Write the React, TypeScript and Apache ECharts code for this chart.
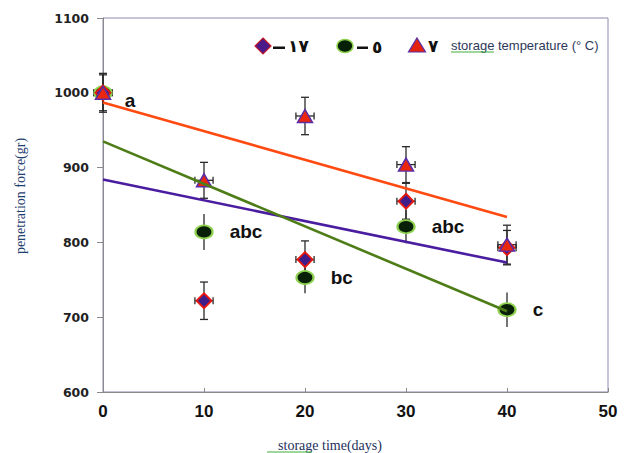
import React, { useEffect, useRef } from 'react';
import * as echarts from 'echarts';

// storage time (days)
const days = [0, 10, 20, 30, 40];
// penetration force (gr) by storage temperature
const temp17 = [1000, 722, 777, 855, 793];
const temp5 = [1000, 814, 753, 821, 710];
const temp7 = [1000, 883, 969, 904, 797];
// error bars
const err17 = [24, 25, 25, 24, 23];
const err5 = [24, 24, 21, 22, 23];
const err7 = [26, 24, 25, 24, 26];
const errDays = [0.9, 0.9, 0.9, 0.9, 0.9];
// significance letters (on the -5 series)
const letters5 = ['a', 'abc', 'bc', 'abc', 'c'];
// linear trend lines (end points)
const trendDays = [0, 40];
const trend17 = [884, 773];
const trend5 = [935, 708];
const trend7 = [987, 834];
// legend labels
const legendNames = ['١٧', '٥', '٧'];
const legendSuffix = 'storage temperature (° C)';
const xTitle = 'storage time(days)';
const yTitle = 'penetration force(gr)';

const C_ORANGE = '#ff4a12';
const C_GREEN = '#4e7d17';
const C_PURPLE = '#4a1ca0';

function makeErr(ys: number[], errs: number[], caps: boolean, z: number) {
  return {
    type: 'custom',
    z,
    silent: true,
    encode: { x: 0, y: 1 },
    data: days.map((d, i) => [d, ys[i], errs[i], errDays[i]]),
    renderItem: (params: any, api: any) => {
      const x = api.value(0);
      const y = api.value(1);
      const e = api.value(2);
      const ex = api.value(3);
      const top = api.coord([x, y + e]);
      const bot = api.coord([x, y - e]);
      const left = api.coord([x - ex, y]);
      const right = api.coord([x + ex, y]);
      const style = { stroke: '#2a2a2a', lineWidth: 1.3 };
      const children: any[] = [
        { type: 'line', shape: { x1: top[0], y1: top[1], x2: bot[0], y2: bot[1] }, style },
        { type: 'line', shape: { x1: left[0], y1: left[1], x2: right[0], y2: right[1] }, style },
      ];
      if (caps) {
        const cw = 4;
        const ch = 3.5;
        children.push(
          { type: 'line', shape: { x1: top[0] - cw, y1: top[1], x2: top[0] + cw, y2: top[1] }, style },
          { type: 'line', shape: { x1: bot[0] - cw, y1: bot[1], x2: bot[0] + cw, y2: bot[1] }, style },
          { type: 'line', shape: { x1: left[0], y1: left[1] - ch, x2: left[0], y2: left[1] + ch }, style },
          { type: 'line', shape: { x1: right[0], y1: right[1] - ch, x2: right[0], y2: right[1] + ch }, style }
        );
      }
      return { type: 'group', children };
    },
  };
}

function trend(ys: number[], color: string) {
  return {
    type: 'line',
    z: 10,
    silent: true,
    symbol: 'none',
    data: trendDays.map((d, i) => [d, ys[i]]),
    lineStyle: { color, width: 2.6 },
  };
}

export default function App() {
  const ref = useRef<HTMLDivElement>(null);
  useEffect(() => {
    if (!ref.current) return;
    const chart = echarts.init(ref.current, undefined, { renderer: 'svg' });
    const legendTextStyle = {
      fontFamily: 'DejaVu Sans',
      fontWeight: 'bold',
      fontSize: 17,
      fill: '#111',
      textVerticalAlign: 'middle',
    };
    chart.setOption({
      animation: false,
      backgroundColor: '#ffffff',
      grid: {
        left: 103,
        right: 17,
        top: 18,
        bottom: 61,
        show: true,
        borderColor: '#9188b0',
        borderWidth: 1,
      },
      xAxis: {
        type: 'value',
        min: 0,
        max: 50,
        interval: 10,
        axisLine: { show: true, lineStyle: { color: '#8a8a8a', width: 1 } },
        axisTick: { show: true, inside: true, length: 4, lineStyle: { color: '#8a8a8a' } },
        axisLabel: {
          fontFamily: 'Liberation Sans',
          fontWeight: 'bold',
          fontSize: 17,
          color: '#111',
          margin: 11,
          formatter: (v: number) => String(v),
        },
        splitLine: { show: false },
      },
      yAxis: {
        type: 'value',
        min: 600,
        max: 1100,
        interval: 100,
        axisLine: { show: true, lineStyle: { color: '#8a8a8a', width: 1 } },
        axisTick: { show: true, inside: false, length: 6, lineStyle: { color: '#8a8a8a' } },
        axisLabel: {
          fontFamily: 'DejaVu Sans',
          fontWeight: 'bold',
          fontSize: 12.5,
          color: '#222',
          margin: 14,
          formatter: (v: number) => String(v),
        },
        splitLine: { show: false },
      },
      series: [
        makeErr(temp5, err5, false, 2),
        makeErr(temp17, err17, true, 2),
        makeErr(temp7, err7, true, 2),
        {
          type: 'scatter',
          name: legendNames[1],
          z: 3,
          symbol: 'circle',
          symbolSize: [17, 13],
          itemStyle: { color: '#082008', borderColor: '#8ed14e', borderWidth: 2, opacity: 1 },
          data: days.map((d, i) => ({
            value: [d, temp5[i]],
            label: {
              show: true,
              formatter: letters5[i],
              position: 'right',
              distance: i === 0 ? 12 : 16,
              offset: i === 0 ? [0, 8] : [0, 0],
              fontFamily: 'Liberation Sans',
              fontWeight: 'bold',
              fontSize: 19,
              color: '#111',
            },
          })),
        },
        {
          type: 'scatter',
          name: legendNames[0],
          z: 4,
          symbol: 'diamond',
          symbolSize: [15, 15],
          itemStyle: { color: '#3f1e8c', borderColor: '#e8170e', borderWidth: 1.8, opacity: 1 },
          data: days.map((d, i) => [d, temp17[i]]),
        },
        {
          type: 'scatter',
          name: legendNames[2],
          z: 5,
          symbol: 'triangle',
          symbolSize: [15, 13],
          itemStyle: { color: '#ea260c', borderColor: '#5a2ca6', borderWidth: 1.5, opacity: 1 },
          data: days.map((d, i) => [d, temp7[i]]),
        },
        trend(trend17, C_PURPLE),
        trend(trend5, C_GREEN),
        trend(trend7, C_ORANGE),
      ],
      graphic: [
        // legend
        {
          type: 'polygon',
          shape: { points: [[263, 38], [271, 46], [263, 54], [255, 46]] },
          style: { fill: '#4a1a8a', stroke: '#c0182a', lineWidth: 1.2 },
        },
        { type: 'rect', shape: { x: 273, y: 46.5, width: 12, height: 2.5 }, style: { fill: '#111' } },
        { type: 'text', x: 288, y: 46, style: { ...legendTextStyle, text: legendNames[0] } },
        {
          type: 'ellipse',
          shape: { cx: 345, cy: 46, rx: 8, ry: 6.5 },
          style: { fill: '#062006', stroke: '#8ed14e', lineWidth: 1.6 },
        },
        { type: 'rect', shape: { x: 357, y: 46.5, width: 11, height: 2.5 }, style: { fill: '#111' } },
        { type: 'text', x: 372, y: 47, style: { ...legendTextStyle, text: legendNames[1] } },
        {
          type: 'polygon',
          shape: { points: [[417, 38], [425.5, 52], [408.5, 52]] },
          style: { fill: '#e4230c', stroke: '#5a2ca6', lineWidth: 1.2 },
        },
        { type: 'text', x: 428, y: 46, style: { ...legendTextStyle, text: legendNames[2] } },
        {
          type: 'text',
          x: 451,
          y: 45,
          style: {
            text: legendSuffix,
            fontFamily: 'Liberation Sans',
            fontSize: 13,
            fill: '#2d3a5a',
            textVerticalAlign: 'middle',
          },
        },
        { type: 'line', shape: { x1: 451, y1: 52, x2: 494, y2: 52 }, style: { stroke: '#3fae3f', lineWidth: 1.2 } },
        // axis titles
        {
          type: 'text',
          x: 330,
          y: 445,
          style: {
            text: xTitle,
            fontFamily: 'Liberation Serif',
            fontSize: 14,
            fill: '#23305c',
            textAlign: 'center',
            textVerticalAlign: 'middle',
          },
        },
        { type: 'line', shape: { x1: 267, y1: 452, x2: 312, y2: 452 }, style: { stroke: '#3fae3f', lineWidth: 1.2 } },
        {
          type: 'text',
          x: 20,
          y: 196,
          rotation: Math.PI / 2,
          style: {
            text: yTitle,
            fontFamily: 'Liberation Serif',
            fontSize: 14,
            fill: '#1f4070',
            textAlign: 'center',
            textVerticalAlign: 'middle',
          },
        },
      ],
    });
    return () => chart.dispose();
  }, []);
  return (
    <div
      ref={ref}
      style={{ position: 'absolute', left: 0, top: 0, width: 625, height: 453, background: '#fff' }}
    />
  );
}
